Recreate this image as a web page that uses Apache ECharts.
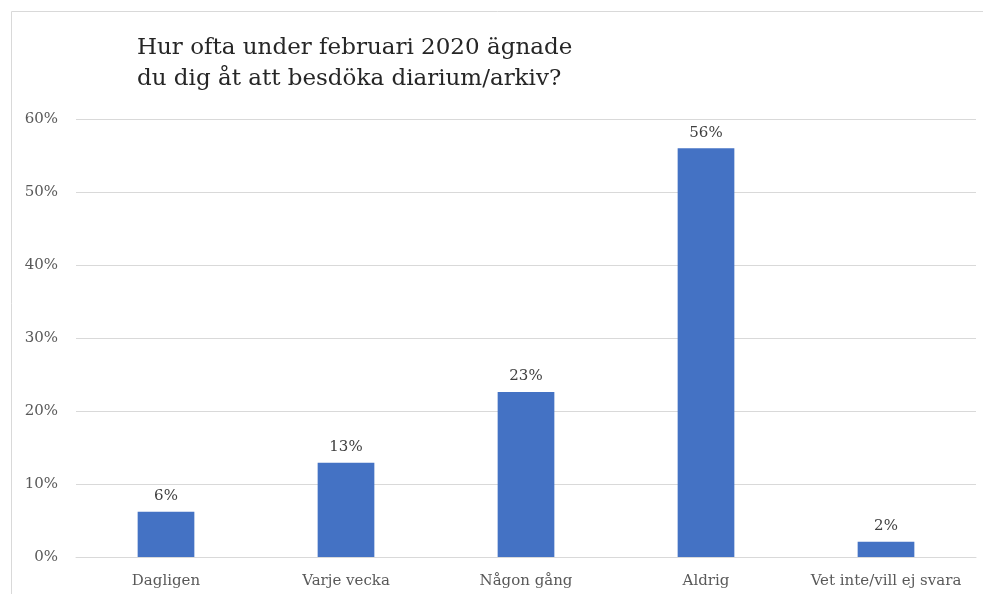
<!DOCTYPE html>
<html>
<head>
<meta charset="utf-8">
<script src="https://cdn.jsdelivr.net/npm/echarts@6/dist/echarts.min.js"></script>
<style>
  html, body { margin: 0; padding: 0; background: #fff; }
  #chart { width: 983px; height: 594px; }
</style>
</head>
<body>
<div id="chart"></div>
<script>
  // Survey answers, share of respondents (%)
  const categories = ["Dagligen", "Varje vecka", "Någon gång", "Aldrig", "Vet inte/vill ej svara"];
  const shares = [6.2, 12.9, 22.6, 56.0, 2.1];
  const shareLabels = ["6%", "13%", "23%", "56%", "2%"];

  const myChart = echarts.init(document.getElementById("chart"));

  const option = {
    animation: false,
    title: {
      text: "Hur ofta under februari 2020 ägnade\ndu dig åt att besdöka diarium/arkiv?",
      left: 132,
      top: 28,
      textStyle: {
        fontFamily: "DejaVu Serif",
        fontWeight: "normal",
        fontSize: 23,
        lineHeight: 31,
        color: "#262626"
      }
    },
    graphic: [
      {
        type: "rect",
        shape: { x: 11.5, y: 11.5, width: 1000, height: 700 },
        style: { fill: "none", stroke: "#d9d9d9", lineWidth: 1 },
        silent: true
      }
    ],
    grid: {
      left: 76,
      right: 7,
      top: 119,
      bottom: 37
    },
    xAxis: {
      type: "category",
      data: categories,
      axisLine: { show: true, lineStyle: { color: "#d9d9d9" } },
      axisTick: { show: false },
      axisLabel: {
        interval: 0,
        color: "#595959",
        fontFamily: "DejaVu Serif",
        fontSize: 15,
        margin: 17
      }
    },
    yAxis: {
      type: "value",
      min: 0,
      max: 60,
      interval: 10,
      axisLine: { show: false },
      axisTick: { show: false },
      splitLine: { lineStyle: { color: "#d9d9d9" } },
      axisLabel: {
        color: "#595959",
        fontFamily: "DejaVu Serif",
        fontSize: 15,
        margin: 18,
        formatter: "{value}%"
      }
    },
    series: [
      {
        type: "bar",
        data: shares,
        barWidth: "31.5%",
        itemStyle: { color: "#4472c4" },
        label: {
          show: true,
          position: "top",
          distance: 8,
          color: "#404040",
          fontFamily: "DejaVu Serif",
          fontSize: 15,
          formatter: (p) => shareLabels[p.dataIndex]
        }
      }
    ]
  };

  myChart.setOption(option);
</script>
</body>
</html>
